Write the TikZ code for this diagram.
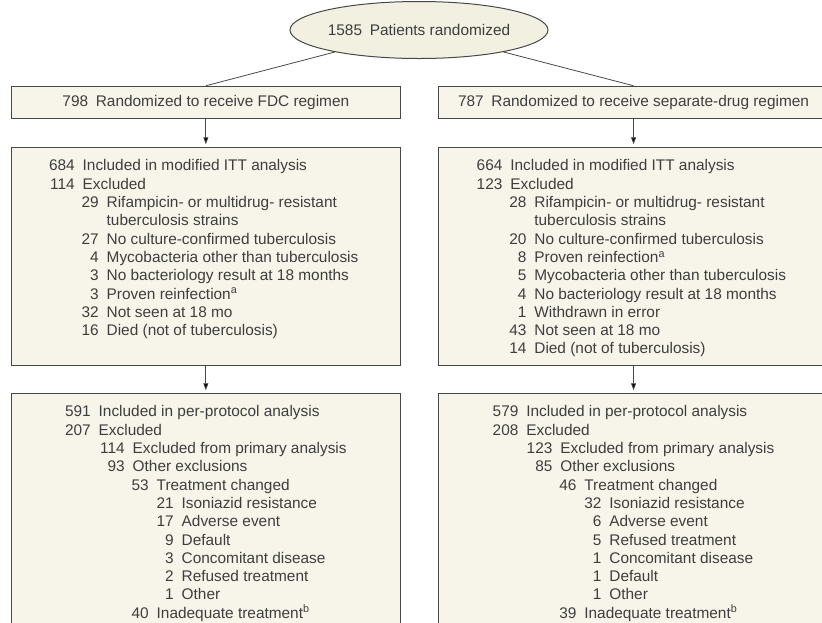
\documentclass[tikz,border=0pt]{standalone}
\usepackage{fontspec}
\setmainfont{Liberation Sans}
\usetikzlibrary{positioning,shapes.geometric,arrows.meta}

\definecolor{boxfill}{RGB}{247,244,233}
\definecolor{ovalfill}{RGB}{242,240,224}
\definecolor{edgegray}{RGB}{72,72,72}
\definecolor{textgray}{RGB}{62,62,62}

% one counted line: text starts #1 pt from the box edge, number right-aligned before it
\newcommand{\flowline}[3]{\hspace*{#1pt}\llap{#2\hspace{8pt}}#3}

\tikzset{
  oval/.style={draw=edgegray,fill=ovalfill,line width=1pt,ellipse,
    minimum width=258pt,minimum height=57pt,inner sep=0pt},
  rect/.style={draw=edgegray,fill=boxfill,line width=1pt,rectangle,
    minimum width=389.7pt,inner sep=0pt},
  listtext/.style={align=left,inner sep=0pt},
  link/.style={draw=edgegray,line width=0.8pt},
  arrow/.style={link,-{Triangle[length=7pt,width=5pt]},shorten >=3pt},
}

\begin{document}
\begin{tikzpicture}[x=1pt,y=1pt,font=\fontsize{15.4}{18.3}\selectfont,text=textgray]
\useasboundingbox (0,0) rectangle (822,-622);
\clip (0,0) rectangle (822,-622);

\node[oval](rand) at (419,-30) {1585\enspace Patients randomized};

\node[rect,minimum height=32.5pt](fdc) at (205.85,-102.5)
    {798\enspace Randomized to receive FDC regimen};
\node[rect,minimum height=32.5pt,right=37pt of fdc](sep)
    {787\enspace Randomized to receive separate-drug regimen};

\node[rect,minimum height=218pt,below=28pt of fdc](ittfdc) {};
\node[rect,minimum height=218pt,below=28pt of sep](ittsep) {};

\node[rect,minimum height=250pt,below=27pt of ittfdc](ppfdc) {};
\node[rect,minimum height=250pt,below=27pt of ittsep](ppsep) {};

\node[listtext,below right=12.3pt and 0pt of ittfdc.north west](ittfdctext) {%
  \flowline{72}{684}{Included in modified ITT analysis}\\
  \flowline{72}{114}{Excluded}\\
  \flowline{96}{29}{Rifampicin- or multidrug- resistant}\\
  \flowline{96}{}{tuberculosis strains}\\
  \flowline{96}{27}{No culture-confirmed tuberculosis}\\
  \flowline{96}{4}{Mycobacteria other than tuberculosis}\\
  \flowline{96}{3}{No bacteriology result at 18 months}\\
  \flowline{96}{3}{Proven reinfection\textsuperscript{a}}\\
  \flowline{96}{32}{Not seen at 18 mo}\\
  \flowline{96}{16}{Died (not of tuberculosis)}};

\node[listtext,below right=12.3pt and 0pt of ittsep.north west](ittseptext) {%
  \flowline{72}{664}{Included in modified ITT analysis}\\
  \flowline{72}{123}{Excluded}\\
  \flowline{96}{28}{Rifampicin- or multidrug- resistant}\\
  \flowline{96}{}{tuberculosis strains}\\
  \flowline{96}{20}{No culture-confirmed tuberculosis}\\
  \flowline{96}{8}{Proven reinfection\textsuperscript{a}}\\
  \flowline{96}{5}{Mycobacteria other than tuberculosis}\\
  \flowline{96}{4}{No bacteriology result at 18 months}\\
  \flowline{96}{1}{Withdrawn in error}\\
  \flowline{96}{43}{Not seen at 18 mo}\\
  \flowline{96}{14}{Died (not of tuberculosis)}};

\node[listtext,below right=12.3pt and 0pt of ppfdc.north west](ppfdctext) {%
  \flowline{88}{591}{Included in per-protocol analysis}\\
  \flowline{88}{207}{Excluded}\\
  \flowline{122}{114}{Excluded from primary analysis}\\
  \flowline{122}{93}{Other exclusions}\\
  \flowline{146}{53}{Treatment changed}\\
  \flowline{171}{21}{Isoniazid resistance}\\
  \flowline{171}{17}{Adverse event}\\
  \flowline{171}{9}{Default}\\
  \flowline{171}{3}{Concomitant disease}\\
  \flowline{171}{2}{Refused treatment}\\
  \flowline{171}{1}{Other}\\
  \flowline{146}{40}{Inadequate treatment\textsuperscript{b}}};

\node[listtext,below right=12.3pt and 0pt of ppsep.north west](ppseptext) {%
  \flowline{88}{579}{Included in per-protocol analysis}\\
  \flowline{88}{208}{Excluded}\\
  \flowline{122}{123}{Excluded from primary analysis}\\
  \flowline{122}{85}{Other exclusions}\\
  \flowline{146}{46}{Treatment changed}\\
  \flowline{171}{32}{Isoniazid resistance}\\
  \flowline{171}{6}{Adverse event}\\
  \flowline{171}{5}{Refused treatment}\\
  \flowline{171}{1}{Concomitant disease}\\
  \flowline{171}{1}{Default}\\
  \flowline{171}{1}{Other}\\
  \flowline{146}{39}{Inadequate treatment\textsuperscript{b}}};

\path[link]
  (rand) edge (fdc.north)
  (rand) edge (sep.north);

\path[arrow]
  (fdc) edge (ittfdc)
  (sep) edge (ittsep)
  (ittfdc) edge (ppfdc)
  (ittsep) edge (ppsep);

\end{tikzpicture}
\end{document}
